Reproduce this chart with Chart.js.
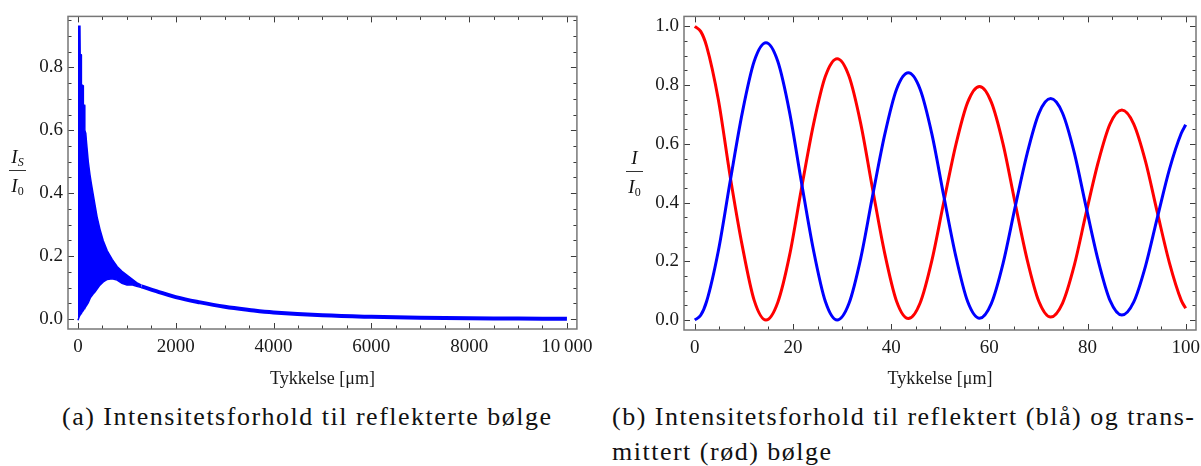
<!DOCTYPE html>
<html lang="no">
<head>
<meta charset="utf-8">
<title>Intensitetsforhold</title>
<script src="https://cdn.jsdelivr.net/npm/chart.js@4.4.1/dist/chart.umd.min.js"></script>
<style>
  html, body { margin: 0; padding: 0; background: #fff; }
  body { width: 1201px; height: 466px; position: relative; overflow: hidden; }
  .panel { position: absolute; top: 0; height: 395px; }
  .frac { position: absolute; width: 17px; font-family: "Liberation Serif", serif; font-size: 19px; color: #111; text-align: center; line-height: 1; }
  .frac sub { font-size: 12px; vertical-align: -3px; line-height: 0; }
  .frac .bar { height: 0; border-top: 1.3px solid #333; margin: 4px 0 5px; }
  .cap { position: absolute; font-family: "Liberation Serif", serif; font-size: 26px; letter-spacing: 1.5px; line-height: 35px; color: #111; white-space: nowrap; }
</style>
</head>
<body>
<div class="panel" style="left:0; width:600px;"><canvas id="chartA"></canvas></div>
<div class="panel" style="left:600px; width:625px;"><canvas id="chartB"></canvas></div>

<div class="frac" style="left:9px; top:147px;"><div><i>I</i><sub><i>S</i></sub></div><div class="bar"></div><div><i>I</i><sub>0</sub></div></div>
<div class="frac" style="left:626px; top:148px;"><div><i>I</i></div><div class="bar"></div><div><i>I</i><sub>0</sub></div></div>

<div class="cap" style="left:62px; top:399px;">(a) Intensitetsforhold til reflekterte bølge</div>
<div class="cap" style="left:612px; top:399px;">(b) Intensitetsforhold til reflektert (blå) og trans-<br>mittert (rød) bølge</div>

<script>
// (a) bånd med raske svingninger: øvre og nedre kant, deretter halen
const bandaX   = [0, 20, 40, 45, 65, 70, 105, 110, 135, 140, 160, 177, 211, 245, 272, 306, 347, 394, 449, 517, 599, 700, 800, 900, 1000, 1100, 1200, 1300];
const bandaSup = [0.931, 0.931, 0.931, 0.84, 0.84, 0.745, 0.742, 0.68, 0.68, 0.60, 0.59, 0.558, 0.50, 0.459, 0.432, 0.401, 0.364, 0.322, 0.286, 0.249, 0.217, 0.19, 0.167, 0.152, 0.14, 0.128, 0.116, 0.108];
const bandaInf = [-0.004, 0.005, 0.012, 0.013, 0.018, 0.019, 0.027, 0.028, 0.034, 0.035, 0.04, 0.044, 0.052, 0.065, 0.072, 0.079, 0.086, 0.096, 0.108, 0.118, 0.126, 0.128, 0.124, 0.114, 0.108, 0.109, 0.104, 0.1];
const colaX = [1300, 1600, 2000, 2500, 3000, 3500, 4000, 5000, 6000, 7000, 8000, 9000, 10000];
const colaY = [0.104, 0.089, 0.07, 0.053, 0.039, 0.029, 0.021, 0.012, 0.0072, 0.0045, 0.0028, 0.0018, 0.0012];

// (b) reflektert (blå) og transmittert (rød)
const espesorB = [0, 1.2, 2.4, 4.8, 7.2, 9.7, 12.1, 14.5, 16.9, 19.3, 21.7, 24.2, 26.6, 29.0, 31.4, 33.8, 36.2, 38.7, 41.1, 43.5, 45.9, 48.3, 50.7, 53.2, 55.6, 58.0, 60.4, 62.8, 65.2, 67.7, 70.1, 72.5, 74.9, 77.3, 79.7, 82.2, 84.6, 87.0, 89.4, 91.8, 94.2, 96.7, 99.1, 100];
const reflejada = [0, 0.016, 0.063, 0.236, 0.472, 0.708, 0.881, 0.944, 0.881, 0.708, 0.472, 0.236, 0.063, 0.0, 0.056, 0.21, 0.421, 0.632, 0.786, 0.842, 0.786, 0.633, 0.424, 0.215, 0.062, 0.006, 0.056, 0.193, 0.38, 0.567, 0.704, 0.754, 0.705, 0.57, 0.386, 0.201, 0.066, 0.017, 0.061, 0.183, 0.347, 0.514, 0.636, 0.665];
const transmitida = [1.0, 0.983, 0.933, 0.75, 0.49, 0.25, 0.067, 0.0, 0.06, 0.22, 0.445, 0.668, 0.83, 0.89, 0.831, 0.669, 0.448, 0.226, 0.064, 0.005, 0.058, 0.203, 0.40, 0.598, 0.742, 0.795, 0.742, 0.599, 0.403, 0.206, 0.063, 0.01, 0.057, 0.186, 0.363, 0.539, 0.668, 0.715, 0.668, 0.541, 0.368, 0.194, 0.067, 0.04];

// ticks
const ticksXa = [0, 2000, 4000, 6000, 8000, 10000];
const etiquetasXa = ["0", "2000", "4000", "6000", "8000", "10\u2009000"];
const ticksYa = [0, 0.2, 0.4, 0.6, 0.8];
const ticksXb = [0, 20, 40, 60, 80, 100];
const ticksYb = [0, 0.2, 0.4, 0.6, 0.8, 1.0];

const fuenteTicks = { family: "'Liberation Serif', serif", size: 19 };
const azul = "#0000ff";
const rojo = "#ff0000";

// ramme med ticks innover på alle fire sider (Mathematica-stil)
const marco = {
  id: "marco",
  afterDraw(chart, args, o) {
    const { ctx, chartArea: a, scales: { x, y } } = chart;
    ctx.save();
    ctx.strokeStyle = "#3c3c3c";
    ctx.lineWidth = 1;
    ctx.beginPath();
    for (let i = 0; ; i++) {
      const v = i * o.xPaso;
      if (v > x.max) break;
      const px = Math.round(x.getPixelForValue(v)) + 0.5;
      const l = o.xMayor.some(m => Math.abs(m - v) < 1e-9) ? 6 : 3.5;
      ctx.moveTo(px, a.bottom); ctx.lineTo(px, a.bottom - l);
      ctx.moveTo(px, a.top); ctx.lineTo(px, a.top + l);
    }
    for (let i = 0; ; i++) {
      const v = i * o.yPaso;
      if (v > y.max) break;
      const py = Math.round(y.getPixelForValue(v)) + 0.5;
      const l = o.yMayor.some(m => Math.abs(m - v) < 1e-9) ? 6 : 3.5;
      ctx.moveTo(a.left, py); ctx.lineTo(a.left + l, py);
      ctx.moveTo(a.right, py); ctx.lineTo(a.right - l, py);
    }
    ctx.stroke();
    ctx.strokeStyle = "#777";
    ctx.lineWidth = 1.5;
    ctx.strokeRect(a.left, a.top, a.right - a.left, a.bottom - a.top);
    ctx.restore();
  }
};

function ejes(xMin, xMax, yMin, yMax, xTicks, xEtiq, yTicks, anchoY, altoX) {
  return {
    x: {
      type: "linear", min: xMin, max: xMax,
      grid: { display: false, drawTicks: false }, border: { display: false },
      afterBuildTicks: s => { s.ticks = xTicks.map(v => ({ value: v })); },
      afterFit: s => { s.height = altoX; },
      ticks: {
        autoSkip: false, maxRotation: 0, padding: 7, color: "#1a1a1a", font: fuenteTicks,
        callback: v => xEtiq ? xEtiq[xTicks.indexOf(v)] : String(v)
      },
      title: {
        display: true, text: "Tykkelse [\u03bcm]", color: "#1a1a1a",
        font: { family: "'Liberation Serif', serif", size: 18 },
        padding: { top: 0, bottom: 5 }
      }
    },
    y: {
      type: "linear", min: yMin, max: yMax,
      grid: { display: false, drawTicks: false }, border: { display: false },
      afterBuildTicks: s => { s.ticks = yTicks.map(v => ({ value: v })); },
      afterFit: s => { s.width = anchoY; },
      ticks: {
        autoSkip: false, padding: 5, color: "#1a1a1a", font: fuenteTicks,
        callback: v => v.toFixed(1)
      }
    }
  };
}

const puntos = (xs, ys) => xs.map((x, i) => ({ x, y: ys[i] }));

new Chart(document.getElementById("chartA"), {
  type: "line",
  data: {
    datasets: [
      { label: "øvre", data: puntos(bandaX, bandaSup), borderColor: azul, borderWidth: 1.5, pointRadius: 0, fill: false },
      { label: "nedre", data: puntos(bandaX, bandaInf), borderColor: azul, borderWidth: 1.5, pointRadius: 0, fill: "-1", backgroundColor: azul },
      { label: "hale", data: puntos(colaX, colaY), borderColor: azul, borderWidth: 4, pointRadius: 0, tension: 0.4, fill: false }
    ]
  },
  options: {
    responsive: true, maintainAspectRatio: false, animation: false,
    layout: { padding: { left: 0, top: 13, right: 21, bottom: 0 } },
    scales: ejes(-204, 10204, -0.0315, 0.962, ticksXa, etiquetasXa, ticksYa, 68, 66),
    plugins: {
      legend: { display: false }, tooltip: { enabled: false },
      marco: { xPaso: 500, xMayor: ticksXa, yPaso: 0.05, yMayor: ticksYa }
    }
  },
  plugins: [marco]
});

new Chart(document.getElementById("chartB"), {
  type: "line",
  data: {
    datasets: [
      { label: "reflektert", data: puntos(espesorB, reflejada), borderColor: azul, borderWidth: 3, pointRadius: 0, cubicInterpolationMode: "monotone", fill: false },
      { label: "transmittert", data: puntos(espesorB, transmitida), borderColor: rojo, borderWidth: 3, pointRadius: 0, cubicInterpolationMode: "monotone", fill: false }
    ]
  },
  options: {
    responsive: true, maintainAspectRatio: false, animation: false,
    layout: { padding: { left: 0, top: 14, right: 29, bottom: 0 } },
    scales: ejes(-2.2, 102.1, -0.034, 1.034, ticksXb, null, ticksYb, 84, 65),
    plugins: {
      legend: { display: false }, tooltip: { enabled: false },
      marco: { xPaso: 5, xMayor: ticksXb, yPaso: 0.05, yMayor: ticksYb }
    }
  },
  plugins: [marco]
});
</script>
</body>
</html>
